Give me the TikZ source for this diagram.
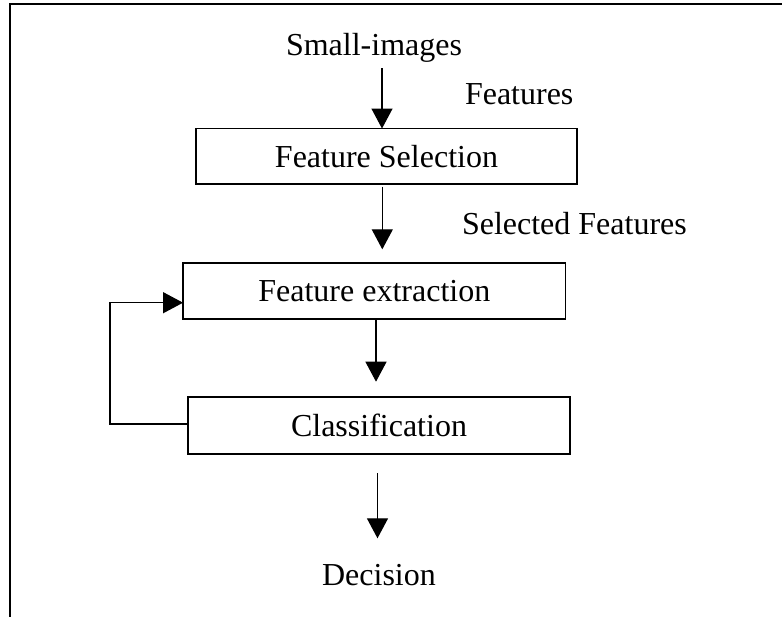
\documentclass[tikz,border=0pt]{standalone}
\usepackage{fontspec}
\setmainfont{Liberation Serif}
\usetikzlibrary{arrows.meta}
\begin{document}
\begin{tikzpicture}[x=0.5pt,y=-0.5pt,
  box/.style={draw,line width=0.8pt,inner sep=0pt,outer sep=0pt,font=\fontsize{16}{19}\selectfont},
  lbl/.style={inner sep=0pt,outer sep=0pt,font=\fontsize{16}{19}\selectfont},
  arr/.style={line width=0.65pt,-{Triangle[width=10.5pt,length=10pt]}},
  frameline/.style={line width=1.1pt}]
\useasboundingbox (0,0) rectangle (782,617);
% frame (top and left edges)
\coordinate (fr1) at (782,3.7);
\coordinate (fr2) at (10,3.7);
\coordinate (fr3) at (10,617);
\draw[frameline] (fr1) -- (fr2) -- (fr3);
% nodes
\node[lbl,anchor=base] (small) at (374,55) {Small-images};
\node[lbl,anchor=base west] (feat) at (465,104) {Features};
\node[box,minimum width=190.5pt,minimum height=27.75pt] (fs) at (386.5,156.3) {Feature Selection};
\node[lbl,anchor=base west] (self) at (462,234) {Selected Features};
\node[box,minimum width=191.25pt,minimum height=28.15pt] (fe) at (374.3,291) {Feature extraction};
\node[box,minimum width=191pt,minimum height=28.5pt] (cl) at (379,425.7) {Classification};
\node[lbl,anchor=base] (dec) at (379,585) {Decision};
% arrows
\coordinate (a1) at (382,68);
\draw[arr] (a1) -- (a1 |- fs.north);
\coordinate (a2s) at (382.3,186.7);
\coordinate (a2e) at (382.3,249.3);
\draw[arr] (a2s) -- (a2e);
\coordinate (a3s) at (376,319);
\coordinate (a3e) at (376,381.7);
\draw[arr] (a3s |- fe.south) -- (a3e);
\coordinate (a4s) at (377.5,473.3);
\coordinate (a4e) at (377.5,538.3);
\draw[arr] (a4s) -- (a4e);
% feedback loop
\coordinate (fb1) at (110,424);
\coordinate (fb2) at (110,302.7);
\draw[arr] (cl.west |- fb1) -- (fb1) -- (fb2) -- (fe.west |- fb2);
\end{tikzpicture}
\end{document}
